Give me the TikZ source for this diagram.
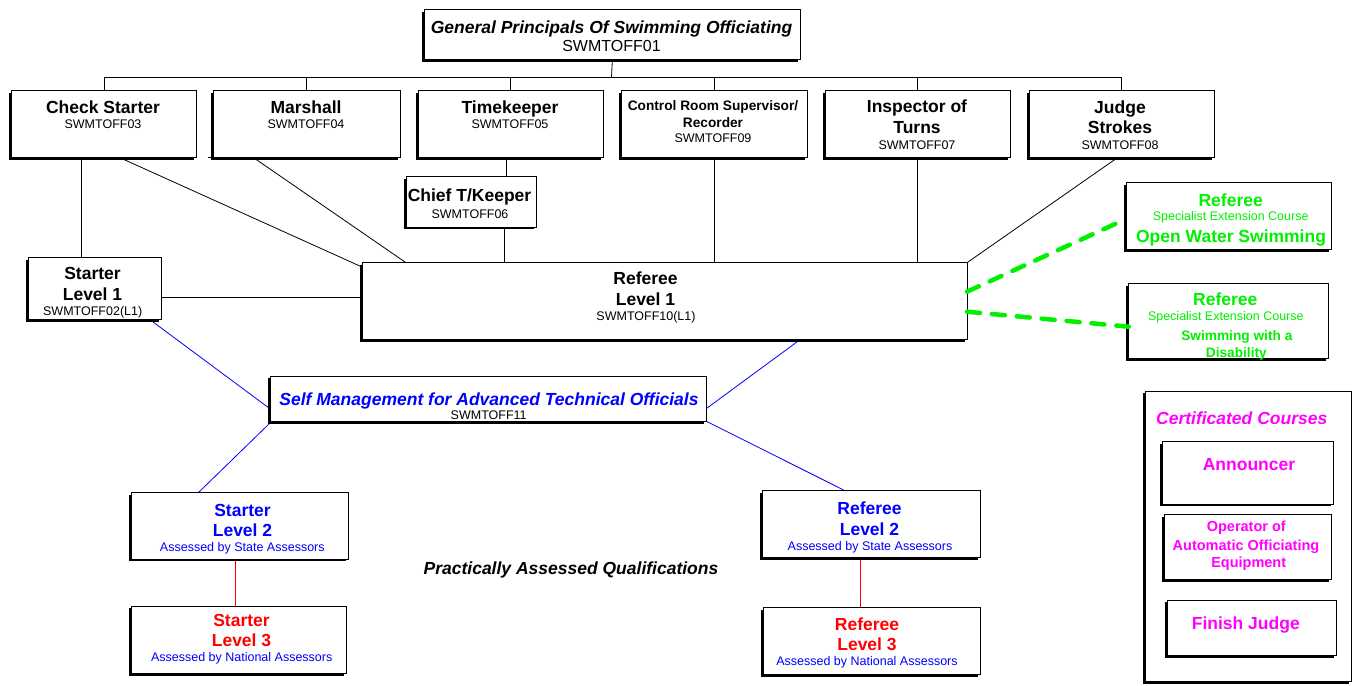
\documentclass[tikz,border=0pt]{standalone}
\usepackage{fontspec}
\setmainfont{Liberation Sans}
\usetikzlibrary{shadows,backgrounds}
\definecolor{cblue}{RGB}{0,0,255}
\definecolor{cred}{RGB}{255,0,0}
\definecolor{cgreen}{RGB}{0,240,0}
\definecolor{cmag}{RGB}{255,0,255}
\newcommand{\obox}[5]{\node[ob,minimum width={(#4-#2-2)*1pt},minimum height={(#5-#3-2)*1pt}] (#1) at ({(#2+#4+2)/2},{(#3+#5-2)/2}) {};}
\newcommand{\tx}[5]{\node[#2] (#1) at (#3,#4) {#5};}
\begin{document}
\begin{tikzpicture}[x=1pt,y=-1pt,
  ob/.style={rectangle,draw=black,line width=0.9pt,fill=white,inner sep=0pt,outer sep=0pt,
    general shadow={fill=black,shadow xshift=-2.4pt,shadow yshift=-2.4pt}},
  t/.style={inner sep=0pt,outer sep=0pt,anchor=base},
  hb/.style={t,font=\fontsize{17.5}{20}\selectfont\bfseries},
  hbi/.style={t,font=\fontsize{17.5}{20}\selectfont\bfseries\itshape},
  cd/.style={t,font=\fontsize{12.5}{15}\selectfont},
  mb/.style={t,font=\fontsize{13.7}{16}\selectfont\bfseries},
  ln/.style={draw=black,line width=0.8pt},
  bl/.style={draw=cblue,line width=0.8pt},
  rl/.style={draw=cred,line width=1.2pt},
  gl/.style={draw=cgreen,line width=4.5pt,dash pattern=on 13pt off 12pt,line cap=round}]
\useasboundingbox (0,0) rectangle (1359,685);
% boxes
\obox{top}{422.7}{9.3}{800}{61.7}
\obox{chk}{9.3}{90.7}{196.7}{159.3}
\obox{mar}{211.7}{90.7}{400}{159.3}
\obox{tim}{416}{90.7}{603.3}{159.3}
\obox{ctl}{619.3}{90.7}{807.3}{159.3}
\obox{ins}{823}{90.7}{1010}{159.3}
\obox{jud}{1027}{90.7}{1214}{159.3}
\obox{chf}{404}{176.7}{536.7}{229}
\obox{st1}{26}{257.3}{161.7}{321.7}
\obox{ref1}{360}{262.7}{967}{341.7}
\obox{sm}{268.3}{376}{706.7}{423.3}
\obox{s2}{129.3}{492.7}{348.3}{561}
\obox{s3}{129.3}{606}{346.7}{675.5}
\obox{r2}{760}{490.7}{980}{559.3}
\obox{r3}{761.7}{607.3}{980}{676.7}
\obox{g1}{1124}{182.3}{1331}{251.7}
\obox{g2}{1126.7}{283.3}{1328.3}{360.7}
\obox{cc}{1143.3}{391}{1351.7}{683.5}
\obox{ann}{1160}{441.7}{1333.3}{506}
\obox{op}{1162.7}{514.3}{1331.3}{581.3}
\obox{fj}{1165}{600}{1336}{657.3}
% connectors
\begin{scope}[on background layer]
\coordinate (bus) at (611.5,77.3);
\draw[ln] (top.south) -- (bus);
\draw[ln] (chk.north) -- (chk.north |- bus) -- (jud.north |- bus) -- (jud.north);
\draw[ln] (mar.north) -- (mar.north |- bus);
\draw[ln] (tim.north) -- (tim.north |- bus);
\draw[ln] (ctl.north) -- (ctl.north |- bus);
\draw[ln] (ins.north) -- (ins.north |- bus);
\draw[ln] ([xshift=-6pt]mar.south west) -- (mar.south west);
\draw[ln] (chk.south -| 81,0) -- (st1.north -| 81,0);
\draw[ln] (chk.south -| 119,0) -- (ref1.west |- 0,267);
\draw[ln] (mar.south -| 253,0) -- (ref1.north -| 406,0);
\draw[ln] (tim.south -| 506.7,0) -- (chf.north -| 506.7,0);
\draw[ln] (chf.south -| 504,0) -- (ref1.north -| 504,0);
\draw[ln] (ctl.south) -- (ref1.north -| ctl.south);
\draw[ln] (ins.south) -- (ref1.north -| ins.south);
\draw[ln] (jud.south -| 1118,0) -- (ref1.north east);
\draw[ln] (st1.east |- 0,297.3) -- (ref1.west |- 0,297.3);
\draw[bl] (st1.south -| 150,0) -- (sm.west |- 0,409);
\draw[bl] (ref1.south -| 800,0) -- (sm.east |- 0,408.3);
\draw[bl] (sm.south -| 271.7,0) -- (s2.north -| 198.3,0);
\draw[bl] (sm.east |- 0,421.5) -- (r2.north -| 845,0);
\draw[rl] (s2.south -| 235.7,0) -- (s3.north -| 235.7,0);
\draw[rl] (r2.south -| 860.7,0) -- (r3.north -| 860.7,0);
\end{scope}
\draw[gl] (ref1.east |- 0,291.7) -- (g1.west |- 0,219);
\draw[gl] (ref1.east |- 0,311.7) -- (g2.west |- 0,326.7);
% texts
\tx{ta1}{hbi}{611.5}{34}{General Principals Of Swimming Officiating}
\tx{ta2}{t,font=\fontsize{16}{19}\selectfont}{611.5}{52}{SWMTOFF01}
\tx{tb1}{hb}{103}{113}{Check Starter}
\tx{tb2}{cd}{103}{128}{SWMTOFF03}
\tx{tc1}{hb}{306}{113}{Marshall}
\tx{tc2}{cd}{306}{128}{SWMTOFF04}
\tx{td1}{hb}{510}{113}{Timekeeper}
\tx{td2}{cd}{510}{128.5}{SWMTOFF05}
\tx{te1}{mb}{713}{110.5}{Control Room Supervisor/}
\tx{te2}{mb}{713}{127}{Recorder}
\tx{te3}{cd}{713}{142}{SWMTOFF09}
\tx{tf1}{hb}{917}{112.7}{Inspector of}
\tx{tf2}{hb}{917}{133}{Turns}
\tx{tf3}{cd}{917}{149}{SWMTOFF07}
\tx{tg1}{hb}{1120}{113}{Judge}
\tx{tg2}{hb}{1120}{133}{Strokes}
\tx{tg3}{cd}{1120}{149}{SWMTOFF08}
\tx{th1}{hb}{469.5}{201.7}{Chief T/Keeper}
\tx{th2}{cd}{470}{218.5}{SWMTOFF06}
\tx{ti1}{hb}{92.5}{279}{Starter}
\tx{ti2}{hb}{92.5}{300}{Level 1}
\tx{ti3}{cd}{92.7}{315}{SWMTOFF02(L1)}
\tx{tj1}{hb}{645.5}{284}{Referee}
\tx{tj2}{hb}{645.5}{305}{Level 1}
\tx{tj3}{cd}{646}{320.5}{SWMTOFF10(L1)}
\tx{tk1}{hbi,text=cblue}{489}{405}{Self Management for Advanced Technical Officials}
\tx{tk2}{cd}{488.7}{419.3}{SWMTOFF11}
\tx{tl1}{hb,text=cblue}{242.5}{516.7}{Starter}
\tx{tl2}{hb,text=cblue}{242.5}{536.7}{Level 2}
\tx{tl3}{cd,text=cblue}{242.3}{551}{Assessed by State Assessors}
\tx{tm1}{hb,text=cred}{241.5}{626.7}{Starter}
\tx{tm2}{hb,text=cred}{241.5}{646.7}{Level 3}
\tx{tm3}{cd,text=cblue}{241.7}{661}{Assessed by National Assessors}
\tx{tn1}{hb,text=cblue}{869.5}{514.3}{Referee}
\tx{tn2}{hb,text=cblue}{869.5}{535}{Level 2}
\tx{tn3}{cd,text=cblue}{870}{550}{Assessed by State Assessors}
\tx{to1}{hb,text=cred}{867}{630}{Referee}
\tx{to2}{hb,text=cred}{867}{650}{Level 3}
\tx{to3}{cd,text=cblue}{867}{665.5}{Assessed by National Assessors}
\tx{tp1}{hbi}{571}{574}{Practically Assessed Qualifications}
\tx{tq1}{hb,text=cgreen}{1230.7}{206}{Referee}
\tx{tq2}{cd,text=cgreen}{1230.7}{220.5}{Specialist Extension Course}
\tx{tq3}{hb,text=cgreen}{1231}{242.7}{Open Water Swimming}
\tx{tr1}{hb,text=cgreen}{1225.3}{305}{Referee}
\tx{tr2}{cd,text=cgreen}{1225.8}{320.3}{Specialist Extension Course}
\tx{tr3}{mb,text=cgreen}{1236.8}{340.7}{Swimming with a}
\tx{tr4}{mb,text=cgreen}{1236.3}{357.3}{Disability}
\tx{ts1}{hbi,text=cmag}{1241.7}{424}{Certificated Courses}
\tx{ts2}{hb,text=cmag}{1249}{470}{Announcer}
\tx{ts3}{t,font=\fontsize{14.5}{17}\selectfont\bfseries,text=cmag}{1246.3}{531}{Operator of}
\tx{ts4}{t,font=\fontsize{14.5}{17}\selectfont\bfseries,text=cmag}{1246}{550.3}{Automatic Officiating}
\tx{ts5}{t,font=\fontsize{14.5}{17}\selectfont\bfseries,text=cmag}{1248.7}{567.3}{Equipment}
\tx{ts6}{hb,text=cmag}{1245.8}{629.3}{Finish Judge}
\end{tikzpicture}
\end{document}
